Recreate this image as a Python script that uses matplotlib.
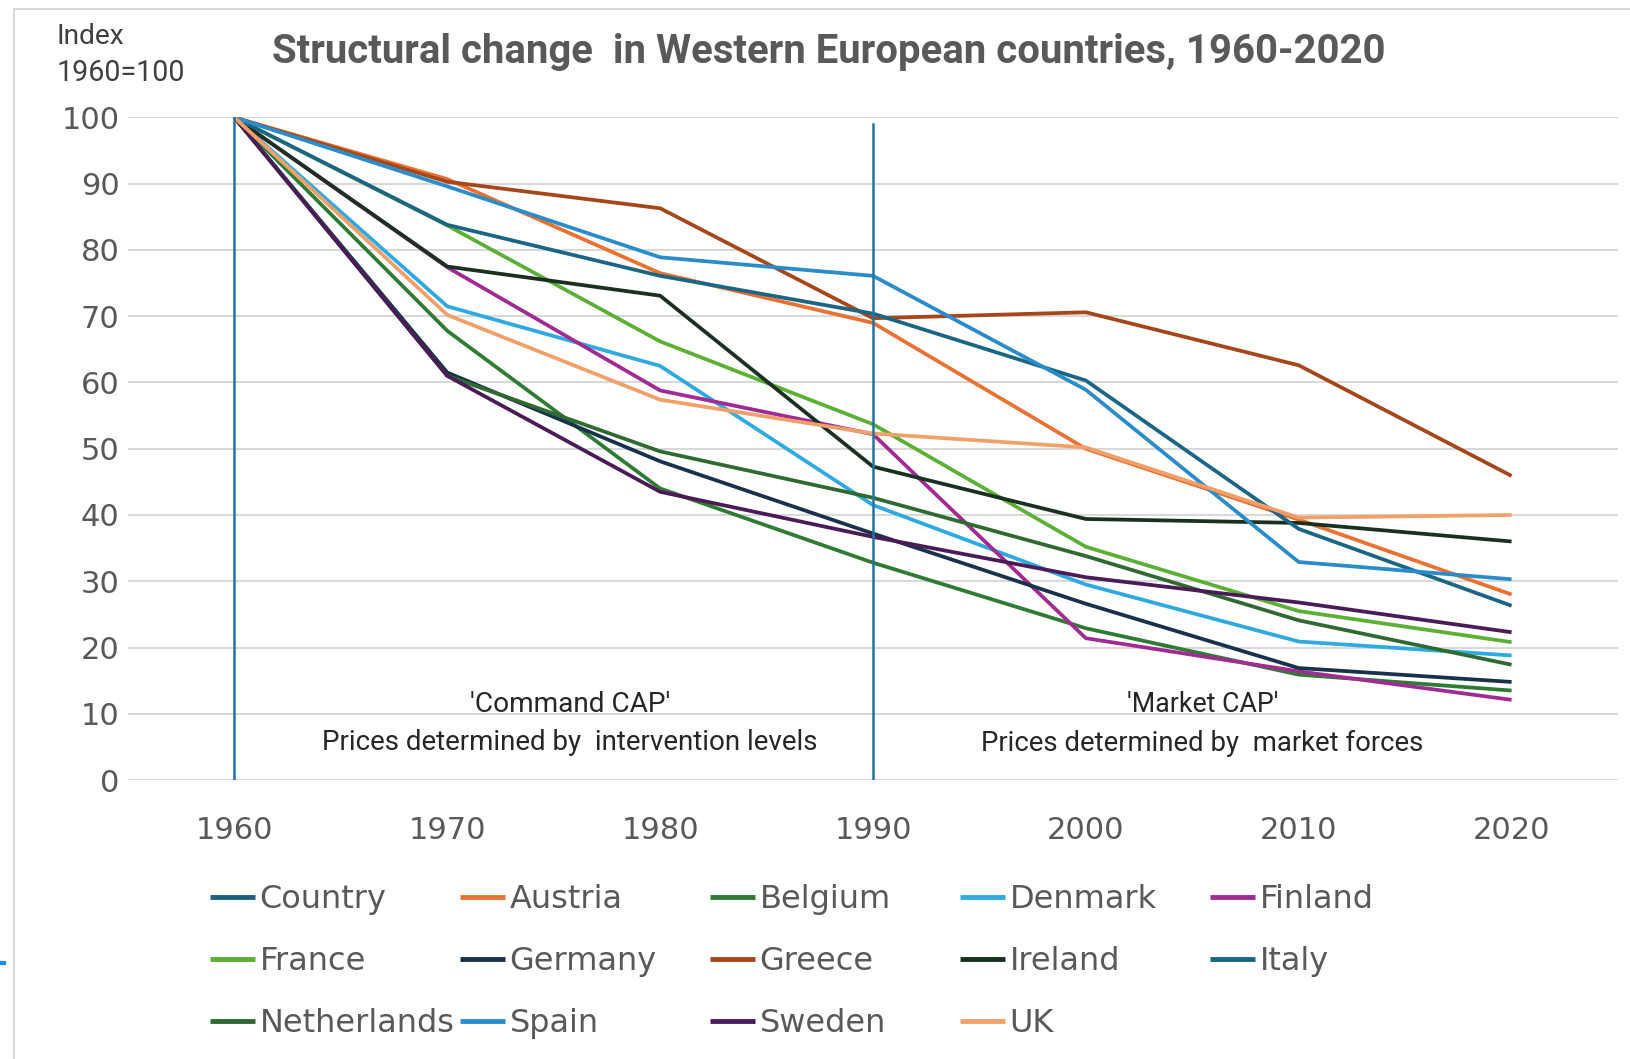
import numpy as np
import matplotlib
matplotlib.use("Agg")
import matplotlib.pyplot as plt
from matplotlib import font_manager
from matplotlib.patches import Rectangle
from matplotlib.lines import Line2D

# ---------------- data ----------------
years = [1960, 1970, 1980, 1990, 2000, 2010, 2020]
year_labels = ["1960", "1970", "1980", "1990", "2000", "2010", "2020"]
y_ticks = [0, 10, 20, 30, 40, 50, 60, 70, 80, 90, 100]

country = [np.nan, np.nan, np.nan, np.nan, np.nan, np.nan, np.nan]
austria = [100, 90.7, 76.5, 69.0, 50.0, 39.3, 28.0]
belgium = [100, 67.8, 44.0, 32.8, 22.9, 15.9, 13.5]
denmark = [100, 71.5, 62.5, 41.5, 29.5, 20.9, 18.8]
finland = [100, 77.4, 58.8, 52.2, 21.4, 16.4, 12.1]
france = [100, 83.7, 66.2, 53.7, 35.2, 25.5, 20.8]
germany = [100, 61.5, 48.1, 37.2, 26.6, 16.9, 14.8]
greece = [100, 90.3, 86.3, 69.7, 70.6, 62.6, 45.9]
ireland = [100, 77.5, 73.1, 47.3, 39.4, 38.8, 36.0]
italy = [100, 83.8, 76.1, 70.4, 60.3, 37.9, 26.3]
netherlands = [100, 61.0, 49.6, 42.6, 33.8, 24.1, 17.4]
spain = [100, 89.6, 78.9, 76.1, 58.9, 32.9, 30.3]
sweden = [100, 61.0, 43.5, 36.7, 30.6, 26.8, 22.3]
uk = [100, 70.2, 57.4, 52.3, 50.2, 39.6, 40.0]

series_names = ["Country", "Austria", "Belgium", "Denmark", "Finland",
                "France", "Germany", "Greece", "Ireland", "Italy",
                "Netherlands", "Spain", "Sweden", "UK"]
series_values = [country, austria, belgium, denmark, finland,
                 france, germany, greece, ireland, italy,
                 netherlands, spain, sweden, uk]
series_colors = ["#1F5F82", "#E97132", "#2E7B34", "#2FAAE1", "#A02B93",
                 "#5BB035", "#17324A", "#A5471A", "#1A3020", "#1B6585",
                 "#2F6B30", "#2A8CC8", "#4A1B57", "#F2A06A"]

period_lines = [1960, 1990]
title = "Structural change  in Western European countries, 1960-2020"
ylabel_lines = ["Index", "1960=100"]
note_left = ["'Command CAP'", "Prices determined by  intervention levels"]
note_right = ["'Market CAP'", "Prices determined by  market forces"]

# ---------------- fonts ----------------
names = {f.name for f in font_manager.fontManager.ttflist}
if "Liberation Sans Narrow" in names:
    narrow = "Liberation Sans Narrow"
elif "DejaVu Sans Condensed" in names:
    narrow = "DejaVu Sans Condensed"
else:
    narrow = "Roboto"
plt.rcParams["font.family"] = ["DejaVu Sans"]

W, H = 1631, 1059
fig = plt.figure(figsize=(W / 100, H / 100), dpi=100)
fig.patch.set_facecolor("white")


def fx(px):
    return px / W


def fy(py):
    return 1 - py / H


# outer chart frame
fig.patches.append(Rectangle((fx(14), fy(1070)), fx(1640) - fx(14), fy(9) - fy(1070),
                             transform=fig.transFigure, fill=False,
                             edgecolor="#D9D9D9", linewidth=1.5))
fig.lines.append(Line2D([0, fx(4)], [fy(963), fy(963)], transform=fig.transFigure,
                        color="#1E90E0", linewidth=3))

ax = fig.add_axes([fx(128), fy(780), fx(1618) - fx(128), fy(117.5) - fy(780)])
ax.set_xlim(1955, 2025)
ax.set_ylim(0, 100)
ax.set_yticks(y_ticks)
ax.set_xticks(years)
ax.set_xticklabels(year_labels)
for s in ax.spines.values():
    s.set_visible(False)
ax.tick_params(axis="both", length=0, labelsize=22, labelcolor="#595959")
ax.tick_params(axis="y", pad=6)
ax.tick_params(axis="x", pad=26)
ax.grid(axis="y", color="#D9D9D9", linewidth=1.5)
ax.set_axisbelow(True)

for name, vals, col in zip(series_names, series_values, series_colors):
    ax.plot(years, vals, color=col, linewidth=2.7, label=name,
            solid_joinstyle="round", solid_capstyle="butt")

for xv in period_lines:
    ax.plot([xv, xv], [0, 100 if xv == 1960 else 99], color="#2273A0", linewidth=1.8)

texts = []
t = fig.text(fx(272), fy(52), title, fontsize=24, fontweight="bold", color="#595959",
             family=[narrow, "DejaVu Sans"], ha="left", va="center")
texts.append((t, 1115))
t = fig.text(fx(57), fy(36), ylabel_lines[0], fontsize=15, color="#404040",
             family=[narrow, "DejaVu Sans"], ha="left", va="center")
texts.append((t, 68))
t = fig.text(fx(57), fy(73), ylabel_lines[1], fontsize=15, color="#404040",
             family=[narrow, "DejaVu Sans"], ha="left", va="center")
texts.append((t, 128))
t = fig.text(fx(570), fy(705), note_left[0], fontsize=16, color="#262626",
             family=[narrow, "DejaVu Sans"], ha="center", va="center")
texts.append((t, 201))
t = fig.text(fx(570), fy(743), note_left[1], fontsize=16, color="#262626",
             family=[narrow, "DejaVu Sans"], ha="center", va="center")
texts.append((t, 497))
t = fig.text(fx(1203), fy(705), note_right[0], fontsize=16, color="#262626",
             family=[narrow, "DejaVu Sans"], ha="center", va="center")
texts.append((t, 151))
t = fig.text(fx(1202), fy(743), note_right[1], fontsize=16, color="#262626",
             family=[narrow, "DejaVu Sans"], ha="center", va="center")
texts.append((t, 442))

fig.canvas.draw()
r = fig.canvas.get_renderer()
for t, target in texts:
    w = t.get_window_extent(r).width
    t.set_fontsize(t.get_fontsize() * target / w)

# legend: Excel-style fixed columns (row-major order)
handles, labels = ax.get_legend_handles_labels()
col_x = [210, 460, 710, 960, 1210]
for j in range(5):
    hs = handles[j::5]
    ls = labels[j::5]
    leg = fig.legend(hs, ls, loc="upper left",
                     bbox_to_anchor=(fx(col_x[j]), fy(884)),
                     bbox_transform=fig.transFigure, frameon=False,
                     fontsize=23, handlelength=1.4, handletextpad=0.15,
                     labelspacing=0.97, borderpad=0, borderaxespad=0)
    for txt in leg.get_texts():
        txt.set_color("#595959")
    for ln in leg.get_lines():
        ln.set_linewidth(3.5)

fig.savefig("out.png", dpi=100, facecolor="white")
